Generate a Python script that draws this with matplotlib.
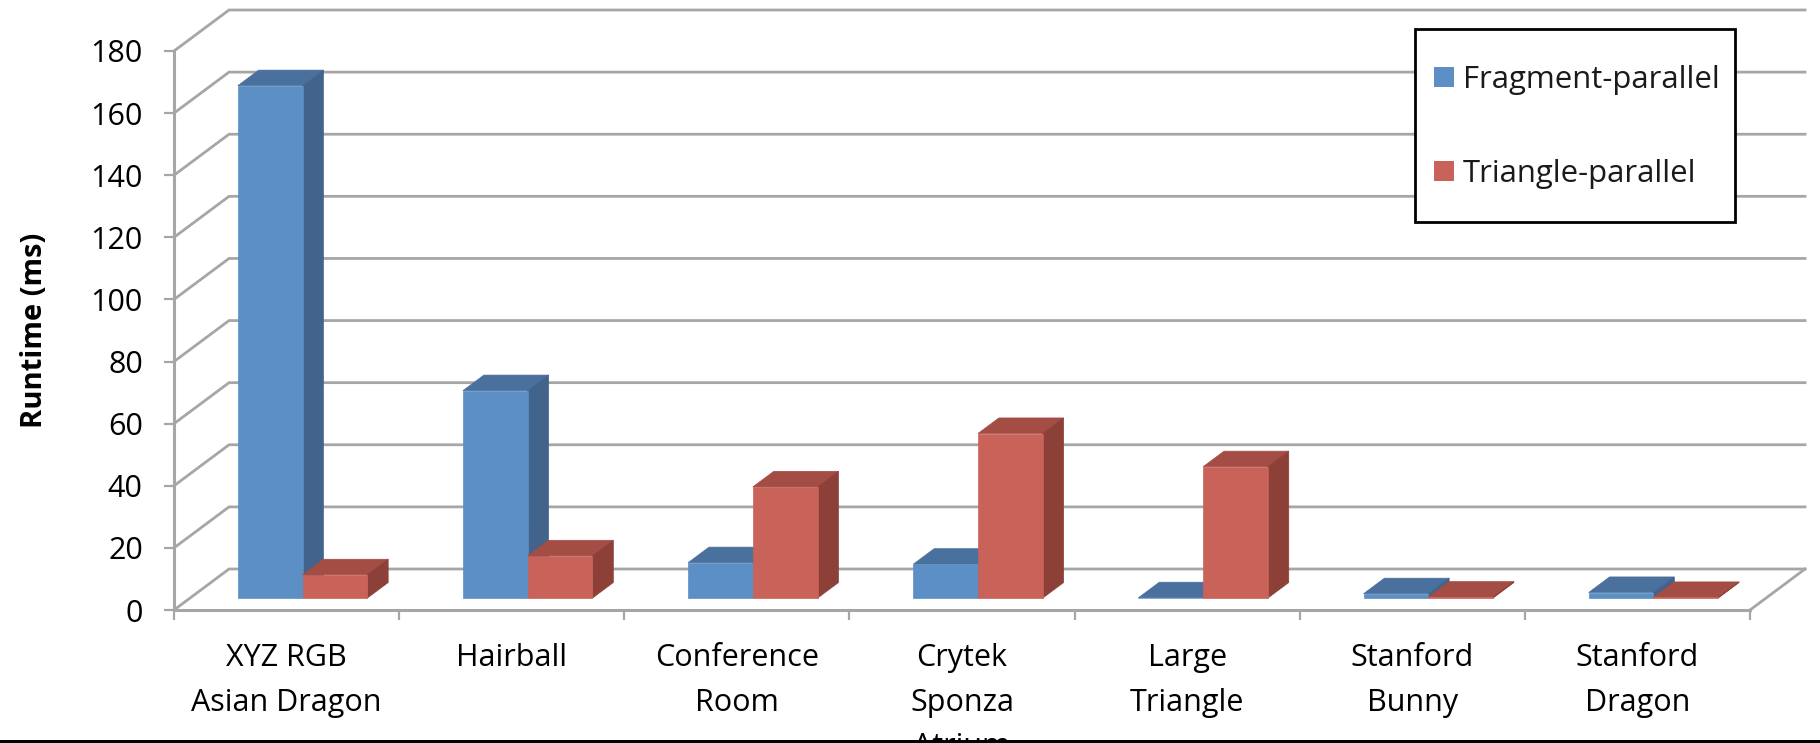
import matplotlib
matplotlib.use("Agg")
import matplotlib.pyplot as plt
from matplotlib.patches import Polygon, Patch, Rectangle

categories = ["XYZ RGB\nAsian Dragon", "Hairball", "Conference\nRoom", "Crytek\nSponza\nAtrium",
              "Large\nTriangle", "Stanford\nBunny", "Stanford\nDragon"]
fragment_parallel = [165, 66.8, 11.4, 10.9, 0.1, 1.4, 1.8]
triangle_parallel = [7.5, 13.6, 35.8, 53, 42.3, 0.3, 0.2]
y_ticks = [0, 20, 40, 60, 80, 100, 120, 140, 160, 180]

W, H = 1820, 743
GRID = "#A6A6A6"
BLUE = ("#5B8FC5", "#4A709E", "#41638C")    # front, top, side
RED = ("#C9635A", "#A34D45", "#8C4038")

plt.rcParams["font.family"] = "Open Sans"
plt.rcParams["text.color"] = "#1A1A1A"

fig = plt.figure(figsize=(W / 100, H / 100), dpi=100)
# axes box is the front plane of the 3D chart
ax = fig.add_axes([174 / W, 1 - 610 / H, 1576 / W, 559 / H])
ax.set_xlim(0, 7)
ax.set_ylim(0, 180)

# oblique projection: full depth of the chart box, in data units
DX = 55 / 225
DY = 41 / (559 / 180)
BAR_W = 0.2875
GAP = 0.2125
D0, D1 = 0.29, 0.67  # bars sit between these depth fractions


def proj(x, y, d):
    return (x + DX * d, y + DY * d)


def draw_bar(x, value, colors, z):
    front, top, side = colors
    pts_front = [proj(x, 0, D0), proj(x + BAR_W, 0, D0), proj(x + BAR_W, value, D0), proj(x, value, D0)]
    pts_top = [proj(x, value, D0), proj(x + BAR_W, value, D0), proj(x + BAR_W, value, D1), proj(x, value, D1)]
    pts_side = [proj(x + BAR_W, 0, D0), proj(x + BAR_W, 0, D1), proj(x + BAR_W, value, D1), proj(x + BAR_W, value, D0)]
    for pts, c in ((pts_top, top), (pts_side, side), (pts_front, front)):
        ax.add_patch(Polygon(pts, closed=True, facecolor=c, edgecolor=c, lw=0.5, clip_on=False, zorder=z))


# walls and floor
for v in y_ticks:
    x0, y0 = proj(0, v, 1)
    x1, y1 = proj(7, v, 1)
    ax.plot([0, x0, x1], [v, y0, y1], color=GRID, lw=2, clip_on=False, zorder=1, solid_joinstyle="miter")
xe, ye = proj(7, 0, 1)
ax.plot([7, xe], [0, ye], color=GRID, lw=2, clip_on=False, zorder=1)

for i, (a, b) in enumerate(zip(fragment_parallel, triangle_parallel)):
    draw_bar(i + GAP, a, BLUE, 3 + i * 0.1)
    draw_bar(i + GAP + BAR_W, b, RED, 3 + i * 0.1 + 0.05)

ax.spines["top"].set_visible(False)
ax.spines["right"].set_visible(False)
for s in ("left", "bottom"):
    ax.spines[s].set_color(GRID)
    ax.spines[s].set_linewidth(2.2)

ax.set_yticks(y_ticks)
ax.set_xticks(range(8))
ax.set_xticklabels([])
ax.set_xticks([i + 0.5 for i in range(7)], labels=categories, minor=True)
ax.tick_params(axis="both", which="major", color=GRID, width=1.6, length=7.5, labelsize=22, pad=15)
ax.tick_params(axis="x", which="minor", length=0, labelsize=22, pad=24)
for lab in ax.get_xticklabels(minor=True):
    lab.set_linespacing(1.62)
ax.set_ylabel("Runtime (ms)", fontsize=21, fontweight="bold", labelpad=30)

# legend frame is drawn separately so its side and top padding can differ
ax.add_patch(Rectangle((1415 / W, 1 - 222 / H), 320 / W, 193 / H, transform=fig.transFigure,
                       facecolor="white", edgecolor="black", lw=2, clip_on=False, zorder=9))
handles = [Patch(facecolor=BLUE[0], label="Fragment-parallel"),
           Patch(facecolor=RED[0], label="Triangle-parallel")]
leg = ax.legend(handles=handles, loc="center left", fontsize=22.4, frameon=False,
                bbox_to_anchor=(1434 / W, 1 - 127 / H),
                bbox_transform=fig.transFigure, borderaxespad=0, borderpad=0,
                handlelength=0.64, handleheight=0.64, handletextpad=0.29, labelspacing=2.05)
leg.set_zorder(10)

# black rule along the bottom edge
fig.add_artist(Rectangle((0, 0), 1, 3 / H, transform=fig.transFigure, facecolor="black", edgecolor="none", zorder=20))

fig.savefig("out.png", dpi=100)
